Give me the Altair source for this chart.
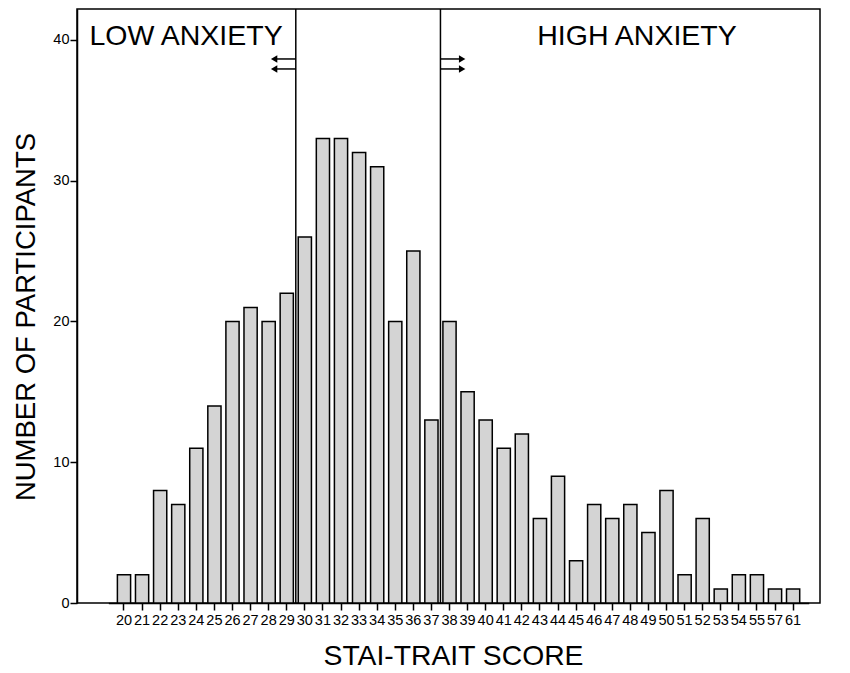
import altair as alt
import pandas as pd

scores = ["20","21","22","23","24","25","26","27","28","29","30","31","32","33","34","35","36","37",
          "38","39","40","41","42","43","44","45","46","47","48","49","50","51","52","53","54","55","57","61"]
counts = [2,2,8,7,11,14,20,21,20,22,26,33,33,32,31,20,25,13,
          20,15,13,11,12,6,9,3,7,6,7,5,8,2,6,1,2,2,1,1]

df = pd.DataFrame({"score": scores, "count": counts})

FONT = "Liberation Sans"
XDOM = [-2.6, 38.49]
YDOM = [0, 42.2]
xq = alt.Scale(domain=XDOM, nice=False, zero=False)
ys = alt.Scale(domain=YDOM, nice=False)

bars = alt.Chart(df).mark_bar(fill="#d4d4d4", stroke="black", strokeWidth=1.5).encode(
    x=alt.X("score:O", sort=scores,
            scale=alt.Scale(paddingInner=0.27, paddingOuter=0.5, range=[31.35, 731.75]),
            axis=alt.Axis(title="STAI-TRAIT SCORE", titleFontSize=28.3, titleFontWeight="normal",
                          titleFont=FONT, titleColor="black", titlePadding=16, titleX=376,
                          labelFont=FONT, labelFontSize=14.5, labelColor="black", labelOverlap=False,
                          labelPadding=3, labelAngle=0, tickColor="black", tickSize=7, tickWidth=1.5,
                          domainColor="black", domainWidth=1.5, grid=False)),
    y=alt.Y("count:Q", scale=ys,
            axis=alt.Axis(values=[0, 10, 20, 30, 40], title="NUMBER OF PARTICIPANTS", titleFontSize=27.5,
                          titleFontWeight="normal", titleFont=FONT, titleColor="black", titlePadding=12,
                          titleY=307.5,
                          labelFont=FONT, labelFontSize=14.5, labelColor="black", labelPadding=1,
                          tickColor="black", tickSize=7, tickWidth=1.5, domainColor="black",
                          domainWidth=1.5, grid=False)),
)

div_df = pd.DataFrame({"x": [9.5, 17.5]})
dividers = alt.Chart(div_df).mark_rule(color="black", strokeWidth=1.5).encode(
    x=alt.X("x:Q", scale=xq, axis=None), y=alt.value(0), y2=alt.value(594))

lab_df = pd.DataFrame({"x": [3.43, 28.37], "y": [40.3, 40.3], "t": ["LOW ANXIETY", "HIGH ANXIETY"]})
labels = alt.Chart(lab_df).mark_text(font=FONT, fontSize=28.5, color="black", align="center",
                                     baseline="middle").encode(
    x=alt.X("x:Q", scale=xq, axis=None), y=alt.Y("y:Q", scale=ys), text="t:N")

arr_df = pd.DataFrame({"x1": [8.35, 8.35, 17.5, 17.5], "x2": [9.5, 9.5, 18.65, 18.65],
                       "y": [38.65, 37.94, 38.65, 37.94]})
arr_lines = alt.Chart(arr_df).mark_rule(color="black", strokeWidth=1.5).encode(
    x=alt.X("x1:Q", scale=xq, axis=None), x2="x2:Q", y=alt.Y("y:Q", scale=ys))

head_df = pd.DataFrame({"x": [8.3, 8.3, 18.7, 18.7], "y": [38.65, 37.94, 38.65, 37.94],
                        "dir": ["l", "l", "r", "r"]})
heads_l = alt.Chart(head_df[head_df.dir == "l"]).mark_point(shape="triangle-left", filled=True,
                                                            color="black", size=55, opacity=1).encode(
    x=alt.X("x:Q", scale=xq, axis=None), y=alt.Y("y:Q", scale=ys))
heads_r = alt.Chart(head_df[head_df.dir == "r"]).mark_point(shape="triangle-right", filled=True,
                                                            color="black", size=55, opacity=1).encode(
    x=alt.X("x:Q", scale=xq, axis=None), y=alt.Y("y:Q", scale=ys))

annot = alt.layer(dividers, labels, arr_lines, heads_l, heads_r)

chart = alt.layer(bars, annot).resolve_scale(x="independent").properties(
    width=743, height=594,
    autosize=alt.AutoSizeParams(type="none"),
    padding={"left": 69, "top": 1, "right": 14, "bottom": 70},
).configure_view(stroke="#000000", strokeWidth=1.5)

chart.save("out.html", embed_options={"renderer": "svg", "actions": False})
